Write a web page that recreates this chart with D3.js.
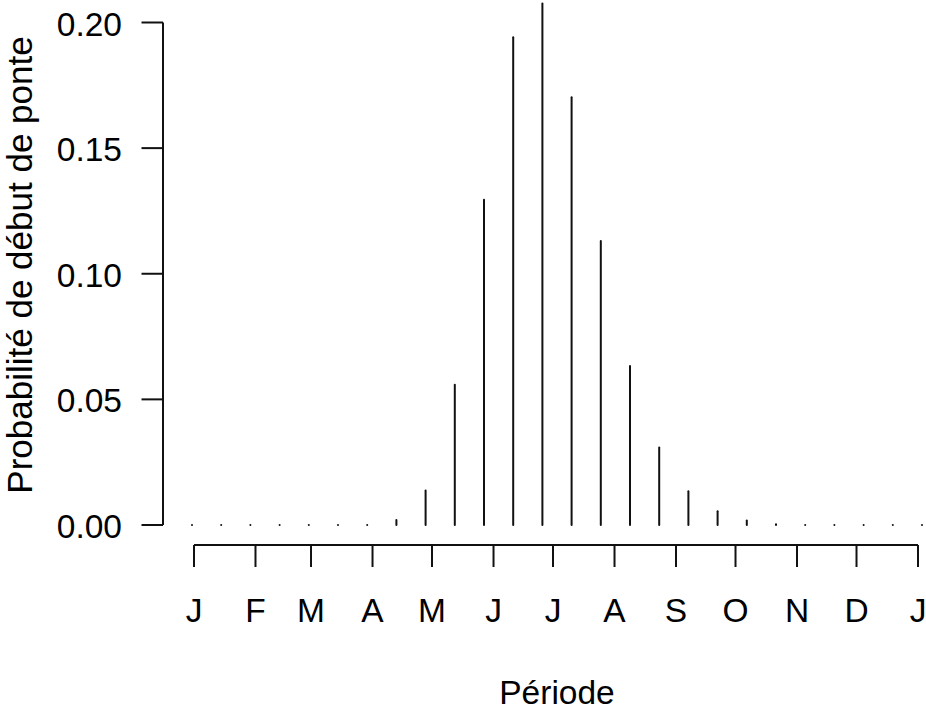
<!DOCTYPE html>
<html>
<head>
<meta charset="utf-8">
<script src="https://cdn.jsdelivr.net/npm/d3@7"></script>
<style>
  body { margin: 0; background: #fff; }
  text { font-family: "Liberation Sans", Arial, sans-serif; fill: #000; }
</style>
</head>
<body>
<svg id="chart"></svg>
<script>
// periods (26 two-week steps over the year) and probability of laying start
const periods = d3.range(1, 27);
const probs = [0, 0, 0, 0, 0, 0, 0, 0.002, 0.0137, 0.0558, 0.1295, 0.1941, 0.2076,
  0.1702, 0.113, 0.0633, 0.0308, 0.0134, 0.0055, 0.0018, 0.0003, 0, 0, 0, 0, 0];

// month labels and their day-of-year positions
const monthLabels = ["J", "F", "M", "A", "M", "J", "J", "A", "S", "O", "N", "D", "J"];
const monthDays = [0, 31, 59, 90, 120, 151, 181, 212, 243, 273, 304, 334, 365];

const yTicks = [0, 0.05, 0.1, 0.15, 0.2];

let width = 926;
let height = 714;

let svg = d3.select("#chart").attr("width", width).attr("height", height);

// scales
let x = d3.scaleLinear().domain([1, 26]).range([192, 922]);
let xMonth = d3.scaleLinear().domain([0, 365]).range([194, 918]);
let y = d3.scaleLinear().domain([0, 0.2]).range([525, 22.5]);

const fontSize = "33.5px";
const axisX = 163;
const axisY = 545;

// y axis
svg.append("line")
  .attr("x1", axisX).attr("x2", axisX)
  .attr("y1", y(0)).attr("y2", y(0.2))
  .attr("stroke", "#111").attr("stroke-width", 2);

svg.selectAll(".ytick")
  .data(yTicks)
  .enter()
  .append("line")
  .attr("class", "ytick")
  .attr("x1", axisX - 21.5).attr("x2", axisX)
  .attr("y1", (d) => y(d)).attr("y2", (d) => y(d))
  .attr("stroke", "#111").attr("stroke-width", 2);

svg.selectAll(".ylab")
  .data(yTicks)
  .enter()
  .append("text")
  .attr("class", "ylab")
  .attr("x", 122)
  .attr("y", (d) => y(d) + 13)
  .attr("text-anchor", "end")
  .style("font-size", fontSize)
  .text((d) => d.toFixed(2));

// x axis (months)
svg.append("line")
  .attr("x1", xMonth(0)).attr("x2", xMonth(365))
  .attr("y1", axisY).attr("y2", axisY)
  .attr("stroke", "#111").attr("stroke-width", 2);

svg.selectAll(".xtick")
  .data(monthDays)
  .enter()
  .append("line")
  .attr("class", "xtick")
  .attr("x1", (d) => xMonth(d)).attr("x2", (d) => xMonth(d))
  .attr("y1", axisY).attr("y2", axisY + 22)
  .attr("stroke", "#111").attr("stroke-width", 2);

svg.selectAll(".xlab")
  .data(monthLabels)
  .enter()
  .append("text")
  .attr("class", "xlab")
  .attr("x", (d, i) => xMonth(monthDays[i]))
  .attr("y", 622)
  .attr("text-anchor", "middle")
  .style("font-size", fontSize)
  .text((d) => d);

// vertical lines (type = "h")
svg.selectAll(".bar")
  .data(periods)
  .enter()
  .append("path")
  .attr("class", "bar")
  .attr("d", (d, i) => `M${x(d)},${y(0)}L${x(d)},${y(probs[i])}`)
  .attr("stroke", "#111")
  .attr("stroke-width", 2)
  .attr("stroke-linecap", "round")
  .attr("fill", "none");

// axis titles
svg.append("text")
  .attr("x", 557)
  .attr("y", 704)
  .attr("text-anchor", "middle")
  .style("font-size", fontSize)
  .text("Période");

svg.append("text")
  .attr("transform", "translate(32, 265) rotate(-90)")
  .attr("text-anchor", "middle")
  .style("font-size", "35px")
  .text("Probabilité de début de ponte");
</script>
</body>
</html>
